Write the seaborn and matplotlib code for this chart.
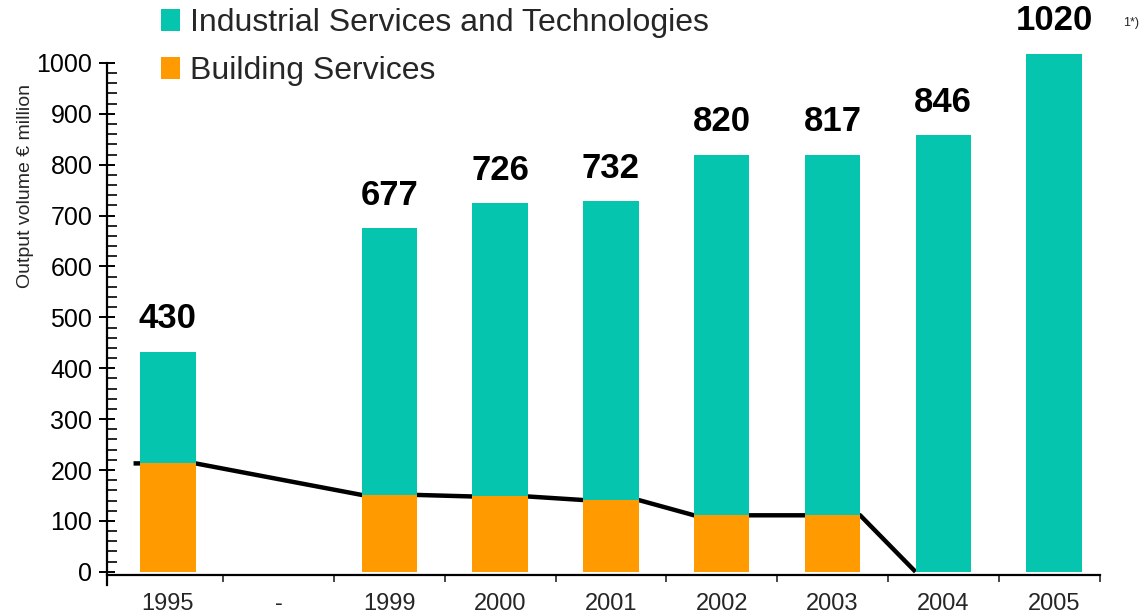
import matplotlib
matplotlib.use("Agg")
import matplotlib.pyplot as plt
from matplotlib.ticker import FixedLocator
import numpy as np
import pandas as pd
import seaborn as sns

# categories on the x axis ("-" is an empty gap slot)
order = ["1995", "-", "1999", "2000", "2001", "2002", "2003", "2004", "2005"]
years = ["1995", "1999", "2000", "2001", "2002", "2003", "2004", "2005"]
# bar heights as drawn (€ million)
total = [432, 675, 724, 728, 819, 819, 858, 1018]
building = [213, 151, 148, 141, 111, 111, 0, 0]
# printed totals above the bars
total_labels = ["430", "677", "726", "732", "820", "817", "846", "1020"]

TEAL = "#06C5AE"
ORANGE = "#FF9A00"

sns.set_style("white")
plt.rcParams["font.family"] = ["Liberation Sans", "DejaVu Sans"]

df = pd.DataFrame({"year": years, "total": total, "building": building})

fig = plt.figure(figsize=(11.44, 6.14), dpi=100, facecolor="white")
ax = fig.add_axes([0.0935, 0.0638, 0.868, 0.8585])

sns.barplot(data=df, x="year", y="total", order=order, color=TEAL, width=0.5,
            saturation=1, errorbar=None, ax=ax, linewidth=0,
            label="Industrial Services and Technologies", zorder=2)
sns.barplot(data=df, x="year", y="building", order=order, color=ORANGE, width=0.5,
            saturation=1, errorbar=None, ax=ax, linewidth=0,
            label="Building Services", zorder=2)

for p in ax.patches:
    p.set_clip_on(False)

# black trend line along the tops of the Building Services bars (behind bars)
lx, ly = [], []
for yr, b in zip(years, building):
    pos = order.index(yr)
    if b > 0:
        lx += [pos - 0.25, pos + 0.25]
        ly += [b, b]
    else:
        lx.append(pos - 0.25)
        ly.append(0)
        break
lx[0] -= 0.06
ax.plot(lx, ly, color="black", lw=3.2, zorder=1, solid_capstyle="butt")

# total labels above bars
ax.bar_label(ax.containers[0], labels=total_labels, padding=12,
             fontsize=25, fontweight="bold", color="black")
fig.text(1131 / 1144, 1 - 23 / 614, "1*)", fontsize=9, ha="center", va="center")

ax.set_xlim(-0.55, 8.415)
ax.set_ylim(-6, 1030)

sns.despine(ax=ax, top=True, right=True)
ax.spines["left"].set_bounds(-26, 1000)
ax.spines["left"].set_linewidth(1.6)
ax.spines["bottom"].set_linewidth(1.6)
ax.spines["left"].set_color("black")
ax.spines["bottom"].set_color("black")

ax.set_yticks(np.arange(0, 1001, 100))
ax.yaxis.set_minor_locator(FixedLocator([v for v in range(0, 1001, 20) if v % 100]))
ax.tick_params(axis="y", which="major", direction="inout", length=11, width=1.4,
               labelsize=18, pad=5, left=True, colors="black")
ax.tick_params(axis="y", which="minor", direction="in", length=7, width=1.4, left=True)

ax.xaxis.set_minor_locator(FixedLocator([k + 0.5 for k in range(8)] + [8.415]))
ax.tick_params(axis="x", which="major", length=0, labelsize=17, pad=13)
ax.tick_params(axis="x", which="minor", direction="out", length=5, width=1.2, bottom=True)

ax.set_xlabel("")
ax.set_ylabel("Output volume € million", fontsize=14)
ax.yaxis.set_label_coords(-0.073, 0.7376)

handles, labels = ax.get_legend_handles_labels()
fig.legend(handles, labels, loc="upper left", bbox_to_anchor=(0.1295, 1.007),
           frameon=False, fontsize=23, handlelength=0.6, handleheight=0.7,
           handletextpad=0.3, labelspacing=0.55, borderaxespad=0)
if ax.get_legend() is not None:
    ax.get_legend().remove()

fig.savefig("out.png", dpi=100, facecolor="white")
plt.close(fig)
